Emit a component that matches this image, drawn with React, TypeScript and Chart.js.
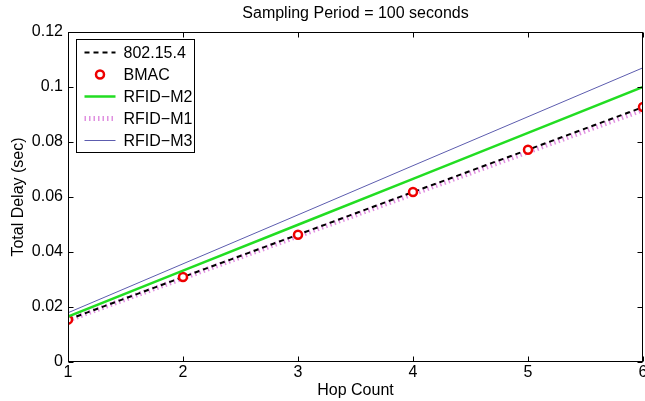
import React, { useEffect, useRef } from 'react';
import { Chart, registerables } from 'chart.js';
Chart.register(...registerables);

const hops = [1, 2, 3, 4, 5, 6];
const ieee802 = [0.0154, 0.0309, 0.0463, 0.0618, 0.0772, 0.0927];
const bmac = [0.0154, 0.0309, 0.0463, 0.0618, 0.0772, 0.0927];
const rfidM2 = [0.0165, 0.0332, 0.0499, 0.0666, 0.0833, 0.1];
const rfidM1 = [0.0152, 0.0305, 0.0458, 0.0611, 0.0764, 0.0917];
const rfidM3 = [0.0179, 0.0357, 0.0535, 0.0714, 0.0892, 0.107];
const yTickValues = [0, 0.02, 0.04, 0.06, 0.08, 0.1, 0.12];
const yTickLabels = ['0', '0.02', '0.04', '0.06', '0.08', '0.1', '0.12'];
const xTickLabels = ['1', '2', '3', '4', '5', '6'];

const FONT = '"Liberation Sans", Arial, Helvetica, sans-serif';

const pts = (ys: number[]) => hops.map((h, i) => ({ x: h, y: ys[i] }));

const boxPlugin = {
  id: 'matlabBox',
  afterDraw(chart: any) {
    const ctx = chart.ctx;
    const { left, right, top, bottom } = chart.chartArea;
    const xs = chart.scales.x;
    const ys = chart.scales.y;
    ctx.save();
    ctx.strokeStyle = '#000';
    ctx.lineWidth = 1;
    const L = Math.round(left) + 0.5, R = Math.round(right) - 0.5;
    const T = Math.round(top) + 0.5, B = Math.round(bottom) - 0.5;
    ctx.strokeRect(L, T, R - L, B - T);
    const tl = 5;
    ctx.beginPath();
    hops.forEach((h) => {
      const px = Math.round(xs.getPixelForValue(h)) + 0.5;
      ctx.moveTo(px, B); ctx.lineTo(px, B - tl);
      ctx.moveTo(px, T); ctx.lineTo(px, T + tl);
    });
    yTickValues.forEach((v) => {
      const py = Math.round(ys.getPixelForValue(v)) + 0.5;
      ctx.moveTo(L, py); ctx.lineTo(L + tl, py);
      ctx.moveTo(R, py); ctx.lineTo(R - tl, py);
    });
    ctx.stroke();
    ctx.restore();
  },
};

const legendPlugin = {
  id: 'matlabLegend',
  afterDraw(chart: any) {
    const ctx = chart.ctx;
    const { left, top } = chart.chartArea;
    const bx = Math.round(left) + 8.5;
    const by = Math.round(top) + 7.5;
    const bw = 118, bh = 113;
    ctx.save();
    ctx.fillStyle = '#fff';
    ctx.fillRect(bx, by, bw, bh);
    ctx.strokeStyle = '#000';
    ctx.lineWidth = 1;
    ctx.strokeRect(bx, by, bw, bh);
    ctx.font = '16px ' + FONT;
    ctx.textBaseline = 'middle';
    ctx.textAlign = 'left';
    chart.data.datasets.forEach((ds: any, i: number) => {
      const cy = by + 13 + i * 22;
      const x0 = bx + 8, x1 = bx + 39;
      if (ds.showLine === false) {
        ctx.beginPath();
        ctx.arc((x0 + x1) / 2, cy, ds.pointRadius, 0, Math.PI * 2);
        ctx.fillStyle = ds.pointBackgroundColor;
        ctx.fill();
        ctx.lineWidth = ds.pointBorderWidth;
        ctx.strokeStyle = ds.pointBorderColor;
        ctx.stroke();
      } else {
        ctx.beginPath();
        ctx.setLineDash(ds.borderDash || []);
        ctx.lineWidth = ds.borderWidth;
        ctx.strokeStyle = ds.borderColor;
        ctx.moveTo(x0, cy);
        ctx.lineTo(x1, cy);
        ctx.stroke();
        ctx.setLineDash([]);
      }
      ctx.fillStyle = '#000';
      ctx.fillText(ds.label, bx + 47, cy + 1);
    });
    ctx.restore();
  },
};

export default function App() {
  const ref = useRef<HTMLCanvasElement>(null);
  useEffect(() => {
    if (!ref.current) return;
    const chart = new Chart(ref.current, {
      type: 'line',
      data: {
        datasets: [
          {
            label: '802.15.4', data: pts(ieee802), borderColor: '#000', borderWidth: 2,
            borderDash: [5, 4], pointRadius: 0, order: 3,
          },
          {
            label: 'BMAC', data: pts(bmac), showLine: false, pointRadius: 4,
            pointBorderWidth: 2.5, pointBorderColor: '#ee0000', pointBackgroundColor: '#ffffff',
            borderColor: '#ee0000', backgroundColor: '#ffffff', order: 2,
          },
          {
            label: 'RFID\u2212M2', data: pts(rfidM2), borderColor: '#22dd22', borderWidth: 2.5,
            pointRadius: 0, order: 1,
          },
          {
            label: 'RFID\u2212M1', data: pts(rfidM1), borderColor: '#e090e0', borderWidth: 5,
            borderDash: [1.5, 3], pointRadius: 0, order: 4,
          },
          {
            label: 'RFID\u2212M3', data: pts(rfidM3), borderColor: '#5c5cae', borderWidth: 1,
            pointRadius: 0, order: 0,
          },
        ] as any,
      },
      options: {
        responsive: false,
        animation: false,
        layout: { padding: { left: 0, right: 2, top: 0, bottom: 0 }, autoPadding: false } as any,
        plugins: {
          legend: { display: false },
          tooltip: { enabled: false },
          title: {
            display: true,
            text: 'Sampling Period = 100 seconds',
            color: '#000',
            fullSize: false,
            font: { size: 16, family: FONT, weight: 'normal', lineHeight: 1.2 },
            padding: { top: 4, bottom: 8.8 },
          } as any,
        },
        scales: {
          x: {
            type: 'linear', min: 1, max: 6,
            afterFit: (s: any) => { s.height = 39; s.paddingLeft = 0; s.paddingRight = 0; },
            afterBuildTicks: (s: any) => { s.ticks = hops.map((v) => ({ value: v })); },
            grid: { display: false, drawTicks: false },
            border: { display: false },
            ticks: {
              color: '#000', padding: 1, maxRotation: 0, autoSkip: false,
              font: { size: 16, family: FONT },
              callback: (v: any) => xTickLabels[hops.indexOf(Number(v))] ?? '',
            },
            title: {
              display: true, text: 'Hop Count', color: '#000',
              font: { size: 16, family: FONT, lineHeight: 1.2 },
              padding: { top: 0, bottom: 1 },
            },
          },
          y: {
            type: 'linear', min: 0, max: 0.12,
            afterFit: (s: any) => { s.width = 68; s.paddingTop = 0; s.paddingBottom = 0; },
            afterBuildTicks: (s: any) => { s.ticks = yTickValues.map((v) => ({ value: v })); },
            grid: { display: false, drawTicks: false },
            border: { display: false },
            ticks: {
              color: '#000', padding: 5, autoSkip: false,
              font: { size: 16, family: FONT },
              callback: (v: any, i: number) => yTickLabels[i] ?? '',
            },
            title: {
              display: true, text: 'Total Delay (sec)', color: '#000',
              font: { size: 16, family: FONT, lineHeight: 1.2 },
              padding: { top: 9, bottom: 0 },
            },
          },
        },
      } as any,
      plugins: [boxPlugin, legendPlugin],
    });
    return () => chart.destroy();
  }, []);
  return (
    <div style={{ position: 'fixed', left: 0, top: 0, width: 645, height: 401, background: '#fff' }}>
      <canvas ref={ref} width={645} height={401} />
    </div>
  );
}
